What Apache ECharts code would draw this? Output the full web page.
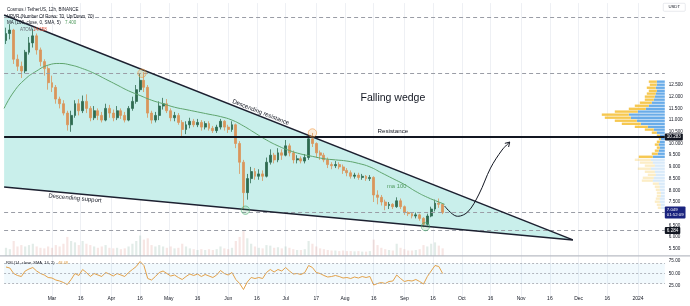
<!DOCTYPE html>
<html><head><meta charset="utf-8">
<script src="https://cdn.jsdelivr.net/npm/echarts@6/dist/echarts.min.js"></script>
<style>html,body{margin:0;padding:0;background:#fff}#c{width:690px;height:306px}</style>
</head><body><div id="c"></div>
<script>
// ---------------- data ----------------
const axisStart = '2023-02-04';
const axisEnd = '2024-01-15';
const tickDates = ['2023-03-01','2023-03-16','2023-04-01','2023-04-16','2023-05-01','2023-05-16','2023-06-01','2023-06-16','2023-07-01','2023-07-17','2023-08-01','2023-08-16','2023-09-01','2023-09-16','2023-10-01','2023-10-16','2023-11-01','2023-11-16','2023-12-01','2023-12-16','2024-01-01'];
const tickLabels = ['Mar','16','Apr','16','May','16','Jun','16','Jul','17','Aug','16','Sep','16','Oct','16','Nov','16','Dec','16','2024'];

const candleStart = '2023-02-05';
const candleStepDays = 2;
const opens = [14.40,14.70,14.85,13.60,13.30,13.10,13.90,14.30,14.60,14.00,
 13.50,13.20,12.60,12.40,11.90,11.70,11.30,10.80,11.20,11.70,
 11.40,11.80,11.50,11.10,11.40,11.20,11.00,11.50,11.30,11.10,
 11.40,11.20,11.00,11.50,11.80,12.30,12.70,12.40,11.30,11.00,
 11.20,11.60,11.70,11.40,11.10,11.20,10.90,10.60,10.80,10.95,
 10.80,10.90,10.70,10.85,10.65,10.55,10.70,10.95,10.70,10.60,
 10.80,10.00,9.20,7.90,8.50,8.80,8.60,8.70,8.60,9.20,
 9.50,9.30,9.60,9.50,9.90,9.60,9.30,9.35,9.25,9.40,
 10.20,10.00,9.60,9.50,9.30,9.10,9.05,9.10,9.00,8.85,
 8.75,8.60,8.65,8.55,8.60,8.50,8.55,7.80,7.70,7.50,
 7.35,7.40,7.30,7.55,7.30,7.05,7.00,6.90,6.95,6.80,
 6.55,6.90,7.20,7.45,7.40];
const closes = [14.70,14.85,13.60,13.30,13.10,13.90,14.30,14.60,14.00,13.50,
 13.20,12.60,12.40,11.90,11.70,11.30,10.80,11.20,11.70,11.40,
 11.80,11.50,11.10,11.40,11.20,11.00,11.50,11.30,11.10,11.40,
 11.20,11.00,11.50,11.80,12.30,12.70,12.40,11.30,11.00,11.20,
 11.60,11.70,11.40,11.10,11.20,10.90,10.60,10.80,10.95,10.80,
 10.90,10.70,10.85,10.65,10.55,10.70,10.95,10.70,10.60,10.80,
 10.00,9.20,7.90,8.50,8.80,8.60,8.70,8.60,9.20,9.50,
 9.30,9.60,9.50,9.90,9.60,9.30,9.35,9.25,9.40,10.20,
 10.00,9.60,9.50,9.30,9.10,9.05,9.10,9.00,8.85,8.75,
 8.60,8.65,8.55,8.60,8.50,8.55,7.80,7.70,7.50,7.35,
 7.40,7.30,7.55,7.30,7.05,7.00,6.90,6.95,6.80,6.55,
 6.90,7.20,7.45,7.40,7.05];
const lows = [14.25,14.45,13.40,13.10,12.80,13.00,13.80,14.10,13.80,13.30,
 12.90,12.30,12.20,11.70,11.50,11.20,10.55,10.50,11.10,11.20,
 11.30,11.30,10.95,11.00,11.00,10.90,10.95,11.10,10.95,11.00,
 11.05,10.90,10.95,11.40,11.70,12.20,12.20,11.10,10.85,10.90,
 11.00,11.45,11.30,10.95,10.95,10.80,10.30,10.40,10.65,10.70,
 10.70,10.55,10.60,10.55,10.45,10.45,10.60,10.55,10.45,10.50,
 9.80,8.70,7.15,7.60,8.30,8.45,8.45,8.40,8.55,9.10,
 9.15,9.20,9.30,9.45,9.45,9.15,9.15,9.15,9.15,9.30,
 9.85,9.40,9.30,9.20,8.95,8.90,8.95,8.90,8.70,8.60,
 8.50,8.50,8.45,8.45,8.40,8.40,7.50,7.40,7.35,7.15,
 7.20,7.20,7.25,7.20,6.95,6.90,6.80,6.80,6.70,6.42,
 6.50,6.85,7.10,7.25,6.98];
const highs = [14.95,15.10,14.90,13.80,13.50,14.00,14.55,14.90,14.70,14.10,
 13.60,13.30,12.90,12.50,12.00,11.85,11.40,11.40,11.85,11.90,
 12.05,12.10,11.60,11.60,11.50,11.35,11.70,11.65,11.45,11.60,
 11.50,11.35,11.60,12.00,12.50,13.00,13.05,12.50,11.40,11.35,
 11.80,11.95,11.90,11.50,11.35,11.30,11.00,10.95,11.10,11.05,
 11.05,11.00,10.95,10.95,10.75,10.80,11.05,11.00,10.80,10.95,
 10.85,10.10,9.30,8.70,9.00,8.95,8.90,8.85,9.40,9.75,
 9.60,9.80,9.75,10.15,10.00,9.70,9.50,9.45,9.55,10.30,
 10.45,10.05,9.70,9.60,9.40,9.20,9.25,9.20,9.10,8.95,
 8.85,8.75,8.75,8.70,8.65,8.65,8.60,8.00,7.80,7.60,
 7.50,7.45,7.70,7.65,7.35,7.10,7.05,7.05,7.00,6.85,
 7.00,7.30,7.60,7.65,7.45];
const volumes = [30,25,55,35,40,35,40,45,35,30,
 28,35,30,40,35,45,70,55,50,40,
 55,45,40,35,30,35,40,30,28,30,
 25,28,35,45,55,75,60,65,40,35,
 40,35,30,35,28,30,45,35,28,25,
 22,25,22,25,22,25,35,28,25,30,
 55,70,95,65,45,35,30,28,40,38,
 30,32,28,35,30,25,22,22,25,55,
 45,35,28,25,22,20,20,18,20,18,
 18,17,18,16,16,18,60,40,30,25,
 22,20,45,30,25,20,20,22,25,40,
 35,45,50,38,28];
const rsiValues = [63,61,50,46,44,55,59,62,55,50,
 47,42,41,37,35,32,28,38,50,46,
 58,52,44,50,47,44,52,49,45,50,
 47,44,52,58,64,74,66,40,37,44,
 52,55,50,45,47,42,38,44,49,46,
 49,44,48,45,42,47,56,50,47,52,
 38,30,18,33,42,40,42,40,52,58,
 53,58,55,62,55,49,50,48,52,66,
 62,52,50,46,43,44,46,44,41,42,
 40,43,41,44,42,44,27,30,32,30,
 34,35,47,40,34,36,35,38,34,29,
 44,55,66,64,50];
const maDates = ['2023-02-04','2023-02-09','2023-02-15','2023-02-21','2023-02-27','2023-03-05','2023-03-11','2023-03-17','2023-03-23','2023-03-29','2023-04-04','2023-04-10','2023-04-16','2023-04-22','2023-04-28','2023-05-04','2023-05-10','2023-05-16','2023-05-22','2023-05-28','2023-06-03','2023-06-09','2023-06-15','2023-06-21','2023-06-27','2023-07-03','2023-07-09','2023-07-15','2023-07-21','2023-07-27','2023-08-02','2023-08-08','2023-08-14','2023-08-20','2023-08-26','2023-09-01','2023-09-07','2023-09-13','2023-09-19','2023-09-22'];
const maValues = [11.5,12.2,12.75,13.1,13.35,13.42,13.35,13.2,13.0,12.75,12.5,12.25,12.05,11.85,11.7,11.55,11.45,11.35,11.25,11.15,11.0,10.75,10.45,10.15,9.9,9.7,9.55,9.45,9.35,9.3,9.25,9.15,9.0,8.75,8.5,8.25,7.95,7.7,7.5,7.4];

const vpPrice = [12.63,12.50,12.37,12.24,12.12,11.99,11.86,11.73,11.60,11.47,11.35,11.22,11.09,10.96,10.83,10.70,10.58,10.45,10.32,10.19,10.06,9.94,9.81,9.68,9.55,9.42,9.29,9.17,9.04,8.91,8.78,8.65,8.52,8.40,8.27,8.14,8.01,7.88,7.75,7.63,7.50,7.37,7.24];
const vpUp = [8,8,9,8,9,10,11,13,16,19,27,36,34,28,24,17,11,8,5,4,5,6,5,6,7,12,14,12,10,14,10,9,11,12,6,5,5,4,4,5,5,4,4];
const vpDown = [8,7,9,8,9,10,9,12,14,17,23,27,26,22,19,13,9,5,3,2,3,4,3,4,6,14,16,13,10,13,10,8,11,11,6,5,4,4,4,4,5,4,3];
const vpRowHeight = 0.128;
const valueAreaLow = 9.36;

const resistanceLevel = 10.283;
const dashedLevels = [15.4, 13.0];
const lastPrice = 7.049, lastPriceTimer = '01:52:09';
const maPriceTag = 7.006, maPriceTagAt = 6.64;
const lowLevel = 6.284;

const wedgeUpper = [['2023-02-04', 15.49], ['2023-11-28', 5.88]];
const wedgeLower = [['2023-02-04', 8.14], ['2023-11-28', 5.88]];
const arrowPath = [['2023-09-22',7.33],['2023-09-28',6.90],['2023-10-04',7.07],['2023-10-10',7.84],['2023-10-16',8.95],['2023-10-22',9.72],['2023-10-26',10.06]];
const touchCircles = [
  {at:['2023-04-17',13.0], color:'orange'},
  {at:['2023-06-10',7.15], color:'green'},
  {at:['2023-07-15',10.45], color:'orange'},
  {at:['2023-09-12',6.45], color:'green'}
];
const chartTexts = [
  {text:'Falling wedge', at:['2023-08-26',11.94], size:10.5, color:'#131722', along:null},
  {text:'Resistance', at:['2023-08-26',10.53], size:6.2, color:'#131722', along:null},
  {text:'Descending resistance', at:['2023-06-18',11.33], size:6, color:'#131722', along:'upper'},
  {text:'Descending support', at:['2023-03-13',7.66], size:6, color:'#131722', along:'lower'},
  {text:'ma 100', at:['2023-08-28',8.18], size:5.8, color:'#4f9a5d', along:null}
];

// ---------------- build ----------------
const DAY = 86400000;
function parseD(s){ const a = s.split('-').map(Number); return Date.UTC(a[0], a[1]-1, a[2]); }
function ymd(t){ return new Date(t).toISOString().slice(0,10); }
const categories = [];
for (let t = parseD(axisStart); t <= parseD(axisEnd); t += DAY) categories.push(ymd(t));
const idxOf = s => categories.indexOf(s);
const candleIdx = opens.map((_, i) => idxOf(ymd(parseD(candleStart) + i*candleStepDays*DAY)));

const candleData = opens.map((o, i) => [candleIdx[i], o, closes[i], lows[i], highs[i]]);
const volData = volumes.map((v, i) => ({value:[candleIdx[i], v], itemStyle:{color: closes[i] >= opens[i] ? 'rgba(110,160,140,0.2)' : 'rgba(215,130,120,0.2)'}}));
const rsiData = rsiValues.map((v, i) => [candleIdx[i], v]);
const maData = maDates.map((d, i) => [idxOf(d), maValues[i]]);
const vpData = vpPrice.map((p, i) => [p, vpUp[i], vpDown[i]]);
const tickSet = {};
tickDates.forEach((d, i) => tickSet[d] = tickLabels[i]);
const isTick = (i, v) => tickSet[v] !== undefined;

const FONT = 'Liberation Sans';
const gridL = 4.1, gridR = 25.2;

const chart = echarts.init(document.getElementById('c'), null, {renderer:'canvas'});
const P = (pt) => [idxOf(pt[0]), pt[1]];

const option = {
  animation: false,
  backgroundColor: '#ffffff',
  textStyle: {fontFamily: FONT},
  grid: [
    {left: gridL, right: gridR, top: 3.1, bottom: 45.5},
    {left: gridL, right: gridR, top: 226, bottom: 50},
    {left: gridL, right: gridR, top: 248.5, bottom: 7.5}
  ],
  xAxis: [
    {type:'category', gridIndex:0, data:categories, boundaryGap:false,
     axisLine:{show:false}, axisTick:{show:false}, axisLabel:{show:false},
     splitLine:{show:true, interval:isTick, lineStyle:{color:'#eef0f4', width:1}}},
    {type:'value', gridIndex:0, min:0, max:660.7, inverse:true, show:false},
    {type:'category', gridIndex:1, data:categories, boundaryGap:false, show:false},
    {type:'category', gridIndex:2, data:categories, boundaryGap:false,
     axisLine:{show:false}, axisTick:{show:false},
     axisLabel:{show:true, interval:isTick, formatter:(v)=>tickSet[v]||'', fontSize:5, color:'#131722', margin:-2},
     splitLine:{show:true, interval:isTick, lineStyle:{color:'#eef0f4', width:1}}}
  ],
  yAxis: [
    {type:'value', gridIndex:0, position:'right', min:5, max:16, interval:0.5,
     axisLine:{show:false}, axisTick:{show:false}, splitLine:{show:false},
     axisLabel:{fontSize:4.6, color:'#131722', margin:4,
       formatter:(v)=> (v >= 5.5 - 1e-9 && v <= 12.5 + 1e-9) ? v.toFixed(3) : ''}},
    {type:'value', gridIndex:1, min:0, max:110, show:false},
    {type:'value', gridIndex:2, position:'right', min:0, max:100, interval:25,
     axisLine:{show:false}, axisTick:{show:false}, splitLine:{show:false},
     axisLabel:{fontSize:4.6, color:'#131722', margin:4,
       formatter:(v)=> (v===25||v===50||v===75) ? v.toFixed(2) : ''}}
  ],
  series: [
    { // wedge fill
      type:'custom', xAxisIndex:0, yAxisIndex:0, z:1, silent:true,
      data:[[0, 10]],
      renderItem:(params, api) => {
        const pts = [wedgeUpper[0], wedgeUpper[1], wedgeLower[0]].map(p => api.coord(P(p)));
        return {type:'polygon', shape:{points:pts}, style:{fill:'#c9efeb'}};
      }
    },
    { // volume
      type:'bar', xAxisIndex:2, yAxisIndex:1, data:volData, barWidth:2.2, z:1, silent:true
    },
    { // volume profile
      type:'custom', xAxisIndex:1, yAxisIndex:0, z:2, silent:true,
      encode:{x:1, y:0},
      data:vpData,
      renderItem:(params, api) => {
        const p = api.value(0), up = api.value(1), dn = api.value(2);
        const yTop = api.coord([0, p + vpRowHeight/2])[1];
        const yBot = api.coord([0, p - vpRowHeight/2])[1];
        const x0 = api.coord([0, p])[0];
        const x1 = api.coord([up, p])[0];
        const x2 = api.coord([up + dn, p])[0];
        const strong = p >= valueAreaLow;
        const h = Math.max(0.8, yBot - yTop - 0.6);
        return {type:'group', children:[
          {type:'rect', shape:{x:x1, y:yTop, width:x0 - x1, height:h}, style:{fill: strong ? 'rgba(80,158,228,0.85)' : 'rgba(80,158,228,0.22)'}},
          {type:'rect', shape:{x:x2, y:yTop, width:x1 - x2, height:h}, style:{fill: strong ? 'rgba(244,190,50,0.85)' : 'rgba(244,190,50,0.28)'}}
        ]};
      }
    },
    { // candles
      type:'candlestick', xAxisIndex:0, yAxisIndex:0, z:3,
      encode:{x:0, y:[1,2,3,4]},
      data:candleData, barWidth:2.4,
      itemStyle:{color:'#2f6b50', color0:'#d9955c', borderColor:'#2f6b50', borderColor0:'#d9955c', borderWidth:0.8},
      markLine:{
        symbol:'none', silent:true, animation:false,
        data:[
          {yAxis:resistanceLevel, lineStyle:{color:'#131722', width:2, type:'solid'},
           label:{show:true, position:'end', distance:0, formatter:resistanceLevel.toFixed(3), color:'#fff', backgroundColor:'#131722', fontSize:4.6, padding:[1,2], borderRadius:1}},
          {yAxis:dashedLevels[0], lineStyle:{color:'#9a9da6', width:1, type:[4,3]}, label:{show:false}},
          {yAxis:dashedLevels[1], lineStyle:{color:'#9a9da6', width:1, type:[4,3]}, label:{show:false}},
          {yAxis:lastPrice, lineStyle:{color:'#9a9da6', width:1, type:[4,3]},
           label:{show:true, position:'end', distance:0, formatter:lastPrice.toFixed(3) + '\n' + lastPriceTimer, color:'#fff', backgroundColor:'#1a237e', fontSize:4.3, lineHeight:5, padding:[1,2], borderRadius:1}},
          {yAxis:maPriceTagAt, lineStyle:{opacity:0},
           label:{show:true, position:'end', distance:0, formatter:maPriceTag.toFixed(3), color:'#fff', backgroundColor:'#131722', fontSize:4.3, padding:[0.5,2], borderRadius:1}},
          {yAxis:lowLevel, lineStyle:{color:'#9a9da6', width:1, type:[4,3]},
           label:{show:true, position:'end', distance:0, formatter:lowLevel.toFixed(3), color:'#fff', backgroundColor:'#131722', fontSize:4.6, padding:[1,2], borderRadius:1}}
        ]
      }
    },
    { // MA 100
      type:'line', xAxisIndex:0, yAxisIndex:0, z:4, data:maData, smooth:true, showSymbol:false, silent:true,
      lineStyle:{color:'#5fa56e', width:1}
    },
    { // annotations
      type:'custom', xAxisIndex:0, yAxisIndex:0, z:6, silent:true,
      data:[[0, 10]],
      renderItem:(params, api) => {
        const c = (pt) => api.coord(P(pt));
        const children = [];
        const lines = {upper: wedgeUpper.map(c), lower: wedgeLower.map(c)};
        Object.keys(lines).forEach(k => {
          const a = lines[k][0], b = lines[k][1];
          children.push({type:'line', shape:{x1:a[0], y1:a[1], x2:b[0], y2:b[1]}, style:{stroke:'#1c2030', lineWidth:1.5}});
        });
        touchCircles.forEach(tc => {
          const p = c(tc.at);
          const col = tc.color === 'orange' ? 'rgba(240,150,60,' : 'rgba(70,170,110,';
          children.push({type:'circle', shape:{cx:p[0], cy:p[1], r:4.2}, style:{fill: col + '0.18)', stroke: col + '0.7)', lineWidth:0.8}});
        });
        const pts = arrowPath.map(c);
        children.push({type:'polyline', shape:{points:pts, smooth:0.35}, style:{stroke:'#131722', lineWidth:1, fill:null}});
        const tip = pts[pts.length-1], prev = pts[pts.length-2];
        const ang = Math.atan2(tip[1]-prev[1], tip[0]-prev[0]);
        const L = 5, sp = 0.55;
        children.push({type:'polyline', shape:{points:[
          [tip[0] - L*Math.cos(ang - sp), tip[1] - L*Math.sin(ang - sp)], tip,
          [tip[0] - L*Math.cos(ang + sp), tip[1] - L*Math.sin(ang + sp)]]},
          style:{stroke:'#131722', lineWidth:1, fill:null}});
        chartTexts.forEach(t => {
          const p = c(t.at);
          let rot = 0;
          if (t.along) {
            const a = lines[t.along][0], b = lines[t.along][1];
            rot = -Math.atan2(b[1]-a[1], b[0]-a[0]);
          }
          children.push({type:'text', x:p[0], y:p[1], rotation:rot,
            style:{text:t.text, fontSize:t.size, fontFamily:FONT, fill:t.color, align:'center', verticalAlign:'middle'}});
        });
        return {type:'group', children};
      }
    },
    { // RSI
      type:'line', xAxisIndex:3, yAxisIndex:2, data:rsiData, showSymbol:false, silent:true,
      lineStyle:{color:'#e3a24a', width:1}, z:3,
      markArea:{silent:true, itemStyle:{color:'rgba(120,200,235,0.10)'}, data:[[{yAxis:30},{yAxis:70}]]},
      markLine:{symbol:'none', silent:true, label:{show:false},
        lineStyle:{color:'#a3a6ae', width:0.8, type:[2,2]},
        data:[{yAxis:70},{yAxis:50},{yAxis:30}]}
    }
  ],
  graphic: [
    {type:'text', left:7, top:7.5, z:10, style:{text:'Cosmos / TetherUS, 12h, BINANCE', font:'4.5px "Liberation Sans"', fill:'#131722'}},
    {type:'text', left:7, top:14, z:10, style:{text:'VPVR (Number Of Rows: 70, Up/Down, 70)', font:'4.5px "Liberation Sans"', fill:'#131722'}},
    {type:'text', left:7, top:20.5, z:10, style:{text:'MA (100, close, 0, SMA, 5)', font:'4.5px "Liberation Sans"', fill:'#131722'}},
    {type:'text', left:65, top:20.5, z:10, style:{text:'7.400', font:'4.5px "Liberation Sans"', fill:'#4f9a5d'}},
    {type:'text', left:20, top:27, z:10, style:{text:'ATOM', font:'4.5px "Liberation Sans"', fill:'#6a6d78'}},
    {type:'text', left:33, top:27, z:10, style:{text:'14.658', font:'4.5px "Liberation Sans"', fill:'#e0533c'}},
    {type:'text', left:6, top:260.5, z:10, style:{text:'RSI (14, close, SMA, 14, 2)', font:'4px "Liberation Sans"', fill:'#131722'}},
    {type:'text', left:58, top:260.5, z:10, style:{text:'48.48', font:'4px "Liberation Sans"', fill:'#e3a24a'}},
    {type:'rect', left:0, top:255.2, z:10, shape:{x:0, y:0, width:690, height:1.4}, style:{fill:'#b9bcc4'}},
    {type:'group', left:663, top:3, z:10, children:[
      {type:'rect', shape:{x:0, y:0, width:22, height:8, r:1}, style:{fill:'#fff', stroke:'#d1d4dc', lineWidth:0.5}},
      {type:'text', x:11, y:4, style:{text:'USDT', font:'4.3px "Liberation Sans"', fill:'#131722', align:'center', verticalAlign:'middle'}}
    ]}
  ]
};
chart.setOption(option);
</script>
</body></html>
